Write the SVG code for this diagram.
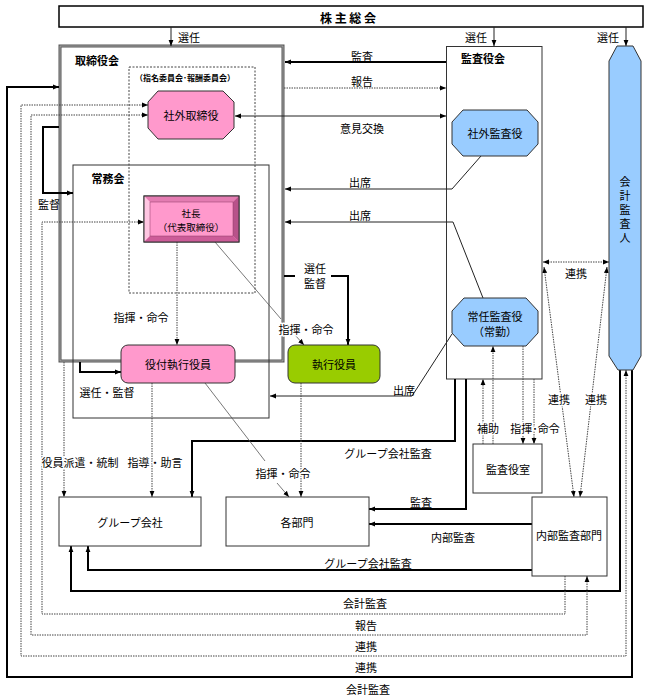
<svg xmlns="http://www.w3.org/2000/svg" width="648" height="700" viewBox="0 0 648 700">
<style>
text{font-family:"Noto Sans CJK JP","Noto Sans",sans-serif;font-size:11px;fill:#000;text-anchor:middle;dominant-baseline:central}
.b{font-weight:bold}
.v{writing-mode:vertical-rl;letter-spacing:3px}
.h{stroke:#fff;stroke-width:3px;paint-order:stroke;stroke-linejoin:round}
.box{fill:#fff;stroke:#333;stroke-width:1}
.thick{fill:none;stroke:#000;stroke-width:2}
.thin{fill:none;stroke:#222;stroke-width:1}
.gray{fill:none;stroke:#555;stroke-width:0.8}
.dot{fill:none;stroke:#444;stroke-width:1;stroke-dasharray:1.5 1}
.ea{marker-end:url(#ah)}
.ba{marker-start:url(#ah);marker-end:url(#ah)}
</style>
<defs>
<marker id="ah" viewBox="0 0 10 10" refX="10" refY="5" markerWidth="6" markerHeight="6" markerUnits="userSpaceOnUse" orient="auto-start-reverse"><path d="M0,1 L10,5 L0,9 z" fill="#000"/></marker>
</defs>
<rect width="648" height="700" fill="#fff"/>

<g id="kabunushi">
<rect x="59" y="6" width="584" height="21" fill="#fff" stroke="#000" stroke-width="1.5"/>
<text x="348" y="17" class="b" style="font-size:12px">株 主 総 会</text>
</g>

<g id="torishimariyakukai">
<rect x="60" y="46" width="223" height="315" fill="none" stroke="#555" stroke-width="3"/>
<rect x="60" y="46" width="223" height="315" fill="none" stroke="#bbb" stroke-width="0.8"/>
<text x="97" y="60" class="b">取締役会</text>
</g>

<g id="jomukai">
<rect x="73" y="165" width="196" height="253" fill="none" stroke="#333" stroke-width="1"/>
<text x="108" y="178" class="b">常務会</text>
</g>

<g id="iinkai">
<rect x="129" y="67" width="126" height="226" fill="none" stroke="#444" stroke-width="1" stroke-dasharray="2 1.5"/>
<text x="185" y="77" class="b" style="font-size:8px">（指名委員会･報酬委員会）</text>
</g>

<g id="kansayakukai">
<rect x="446.5" y="46.5" width="95.5" height="332.5" fill="#fff" stroke="#333" stroke-width="1"/>
<text x="483" y="58" class="b">監査役会</text>
</g>

<g id="connectors">
<line class="thin ea" x1="171" y1="27" x2="171" y2="46"/>
<line class="thin ea" x1="494" y1="27" x2="494" y2="46"/>
<line class="thin ea" x1="626" y1="27" x2="626" y2="46"/>
<line class="thick ea" x1="446" y1="62" x2="285" y2="62"/>
<line class="dot ea" x1="284" y1="88" x2="446" y2="88"/>
<line class="thin ba" x1="446" y1="116" x2="235" y2="116"/>
<polyline class="thin ea" points="481,156 452,189 285,189"/>
<polyline class="thin ea" points="483,298 453,222 285,222"/>
<polyline class="thin ea" points="452,334 412,396 270,396"/>
<path class="thick" d="M284,276 H295"/>
<path class="thick ea" d="M331,276 H348 V345"/>
<line class="dot ea" x1="177" y1="242" x2="177" y2="345"/>
<line class="gray" x1="215" y1="242" x2="281" y2="319"/>
<line class="gray ea" x1="295" y1="335" x2="304" y2="345"/>
<polyline class="thick ea" points="59,127 43,127 43,193 73,193"/>
<polyline class="thick ea" points="80,362 80,372 121,372"/>
<line class="dot ea" x1="64" y1="362" x2="64" y2="497"/>
<line class="dot ea" x1="152" y1="383" x2="152" y2="497"/>
<polyline class="thick ea" points="455,379 455,441 192,441 192,497"/>
<polyline class="thick ea" points="466,379 466,509 369,509"/>
<line class="gray" x1="205" y1="383" x2="265" y2="461"/>
<line class="gray ea" x1="277" y1="483" x2="289" y2="497"/>
<line class="dot ea" x1="301" y1="383" x2="301" y2="497"/>
<line class="dot ea" x1="483" y1="444" x2="483" y2="379"/>
<line class="dot ea" x1="493" y1="444" x2="493" y2="346"/>
<line class="dot ea" x1="523" y1="346" x2="523" y2="444"/>
<line class="dot ea" x1="534" y1="379" x2="534" y2="444"/>
<line class="dot ba" x1="543" y1="262" x2="609" y2="262"/>
<line class="dot ba" x1="544" y1="267" x2="574" y2="497"/>
<line class="dot ba" x1="607" y1="267" x2="580" y2="497"/>
<line class="thick ea" x1="532" y1="524" x2="369" y2="524"/>
<polyline class="thick ea" points="532,570 88,570 88,546"/>
<polyline class="thick ea" points="620,370 620,591 71,591 71,546"/>
<polyline class="dot ea" points="565,576 565,614 42,614 42,222 144,222"/>
<polyline class="dot ba" points="587,576 587,635 31,635 31,115 148,115"/>
<polyline class="dot ba" points="626,370 626,656 21,656 21,105 148,105"/>
<polyline class="thick ea" points="632,370 632,677 7,677 7,87 59,87"/>
</g>

<g id="labels">
<text x="189" y="37">選任</text>
<text x="476" y="37">選任</text>
<text x="608" y="37">選任</text>
<text x="362" y="56">監査</text>
<text x="362" y="81">報告</text>
<text x="362" y="128">意見交換</text>
<text x="360" y="182">出席</text>
<text x="360" y="215">出席</text>
<text x="315" y="268"><tspan x="315" y="268">選任</tspan><tspan x="315" y="283">監督</tspan></text>
<text x="141" y="317" class="h">指揮・命令</text>
<text x="306" y="329" class="h">指揮・命令</text>
<text x="404" y="390">出席</text>
<text x="107" y="392">選任・監督</text>
<text x="49" y="204">監督</text>
<text x="576" y="273">連携</text>
<text x="559" y="399" class="h">連携</text>
<text x="596" y="399" class="h">連携</text>
<text x="488" y="428" class="h">補助</text>
<text x="535" y="428" class="h">指揮･命令</text>
<text x="80" y="462" class="h">役員派遣・統制</text>
<text x="155" y="462" class="h">指導・助言</text>
<text x="388" y="453">グループ会社監査</text>
<text x="283" y="473" class="h">指揮・命令</text>
<text x="421" y="502">監査</text>
<text x="453" y="537">内部監査</text>
<text x="368" y="563">グループ会社監査</text>
<text x="365" y="603">会計監査</text>
<text x="366" y="625">報告</text>
<text x="366" y="646">連携</text>
<text x="366" y="667">連携</text>
<text x="368" y="689">会計監査</text>
</g>

<g id="shagai-torishimariyaku">
<polygon points="158,91 223,91 234,102 234,128 223,139 158,139 148,128 148,102" fill="#FF99CC" stroke="#333" stroke-width="1"/>
<text x="191" y="115">社外取締役</text>
</g>

<g id="shacho">
<rect x="144" y="196" width="95" height="46" fill="#FF99CC" stroke="#333" stroke-width="1"/>
<polygon points="144,196 239,196 233,202 150,202" fill="#E47CB2"/>
<polygon points="144,196 150,202 150,236 144,242" fill="#FFC6E2"/>
<polygon points="239,196 239,242 233,236 233,202" fill="#B8528A"/>
<polygon points="144,242 150,236 233,236 239,242" fill="#CC5C98"/>
<rect x="144" y="196" width="95" height="46" fill="none" stroke="#333" stroke-width="1"/>
<rect x="150" y="202" width="83" height="34" fill="none" stroke="#8a3a66" stroke-width="0.5"/>
<text x="191" y="213" style="font-size:9.5px"><tspan x="191" y="213">社長</tspan><tspan x="191" y="227">（代表取締役）</tspan></text>
</g>

<g id="yakutsuki">
<rect x="121" y="345" width="114" height="38" rx="7" fill="#FF99CC" stroke="#333" stroke-width="1"/>
<text x="178" y="364">役付執行役員</text>
</g>

<g id="shikkoyakuin">
<rect x="288" y="345" width="92" height="38" rx="7" fill="#99CC00" stroke="#333" stroke-width="1"/>
<text x="334" y="364">執行役員</text>
</g>

<g id="shagai-kansayaku">
<polygon points="463,110 527,110 538,122 538,144 527,156 463,156 452,144 452,122" fill="#99CCFF" stroke="#333" stroke-width="1"/>
<text x="495" y="133">社外監査役</text>
</g>

<g id="jonin-kansayaku">
<polygon points="464,298 526,298 538,311 538,333 526,346 464,346 452,333 452,311" fill="#99CCFF" stroke="#333" stroke-width="1"/>
<text x="495" y="316"><tspan x="495" y="316">常任監査役</tspan><tspan x="495" y="331">（常勤）</tspan></text>
</g>

<g id="kaikei-kansanin">
<polygon points="617,46 633,46 641,61 641,356 633,370 618,370 609,356 609,61" fill="#99CCFF" stroke="#333" stroke-width="1"/>
<text x="625" y="211" class="v">会計監査人</text>
</g>

<g id="kansayakushitsu">
<rect x="473" y="444" width="69" height="49" class="box"/>
<text x="508" y="469">監査役室</text>
</g>

<g id="group">
<rect x="59" y="497" width="142" height="49" class="box"/>
<text x="130" y="522">グループ会社</text>
</g>

<g id="kakubumon">
<rect x="226" y="497" width="143" height="49" class="box"/>
<text x="297" y="522">各部門</text>
</g>

<g id="naibukansa">
<rect x="532" y="497" width="75" height="79" class="box"/>
<text x="569" y="535">内部監査部門</text>
</g>
</svg>
